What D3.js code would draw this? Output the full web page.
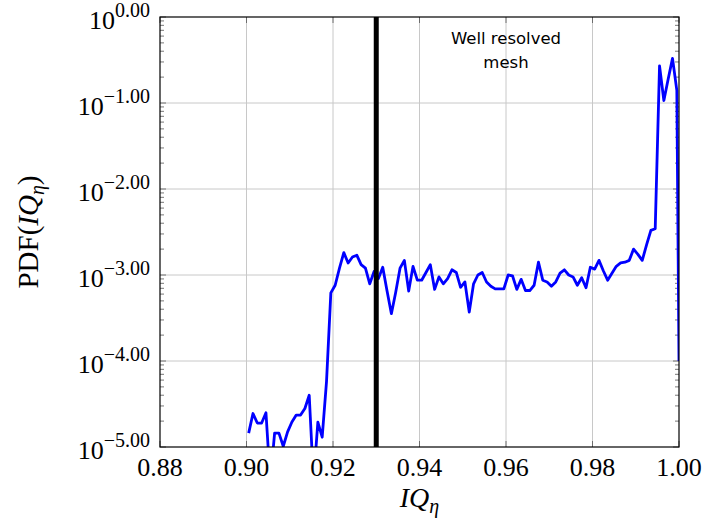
<!DOCTYPE html>
<html>
<head>
<meta charset="utf-8">
<script src="https://cdn.jsdelivr.net/npm/d3@7"></script>
<style>
  body { margin: 0; background: #fff; }
  svg text { font-family: "Liberation Serif", "DejaVu Serif", serif; }
</style>
</head>
<body>
<div id="chart"></div>
<script>
// bin centres of IQ_eta
var iqBins = [
  0.9005, 0.9015, 0.9025, 0.9035, 0.9045, 0.9055, 0.9065, 0.9075, 0.9085, 0.9095,
  0.9105, 0.9115, 0.9125, 0.9135, 0.9145, 0.9155, 0.9165, 0.9175, 0.9185, 0.9195,
  0.9205, 0.9215, 0.9225, 0.9235, 0.9245, 0.9255, 0.9265, 0.9275, 0.9285, 0.9295,
  0.9305, 0.9315, 0.9325, 0.9335, 0.9345, 0.9355, 0.9365, 0.9375, 0.9385, 0.9395,
  0.9405, 0.9415, 0.9425, 0.9435, 0.9445, 0.9455, 0.9465, 0.9475, 0.9485, 0.9495,
  0.9505, 0.9515, 0.9525, 0.9535, 0.9545, 0.9555, 0.9565, 0.9575, 0.9585, 0.9595,
  0.9605, 0.9615, 0.9625, 0.9635, 0.9645, 0.9655, 0.9665, 0.9675, 0.9685, 0.9695,
  0.9705, 0.9715, 0.9725, 0.9735, 0.9745, 0.9755, 0.9765, 0.9775, 0.9785, 0.9795,
  0.9805, 0.9815, 0.9825, 0.9835, 0.9845, 0.9855, 0.9865, 0.9875, 0.9885, 0.9895,
  0.9905, 0.9915, 0.9925, 0.9935, 0.9945, 0.9955, 0.9965, 0.9975, 0.9985, 0.9995,
  1.0
];
// PDF values per bin
var pdfValues = [
  1.45e-5, 2.45e-5, 1.9e-5, 1.9e-5, 2.5e-5, 4e-6, 1.45e-5, 1.45e-5, 1.02e-5, 1.5e-5,
  1.95e-5, 2.35e-5, 2.35e-5, 2.8e-5, 4.0e-5, 4e-6, 1.95e-5, 1.3e-5, 5.75e-5, 6.2e-4,
  7.6e-4, 1.2e-3, 1.82e-3, 1.38e-3, 1.62e-3, 1.7e-3, 1.32e-3, 1.2e-3, 7.9e-4, 1.1e-3,
  9.1e-4, 1.23e-3, 6.5e-4, 3.55e-4, 6.3e-4, 1.2e-3, 1.48e-3, 6.5e-4, 1.26e-3, 8.7e-4,
  8.7e-4, 1.07e-3, 1.32e-3, 6.8e-4, 9.5e-4, 7.9e-4, 9.1e-4, 1.15e-3, 1.07e-3, 7.2e-4,
  8.3e-4, 3.7e-4, 7.9e-4, 1.0e-3, 1.07e-3, 8.3e-4, 7.4e-4, 6.9e-4, 6.9e-4, 6.9e-4,
  1.0e-3, 9.8e-4, 6.8e-4, 8.9e-4, 6.6e-4, 6.6e-4, 7.6e-4, 1.41e-3, 8.7e-4, 8.3e-4,
  7.4e-4, 8.3e-4, 1.05e-3, 1.15e-3, 1.0e-3, 9.5e-4, 7.6e-4, 9.3e-4, 7.1e-4, 1.23e-3,
  1.17e-3, 1.48e-3, 1.12e-3, 8.7e-4, 1.05e-3, 1.26e-3, 1.38e-3, 1.41e-3, 1.48e-3, 2.0e-3,
  1.74e-3, 1.48e-3, 2.24e-3, 3.3e-3, 3.45e-3, 0.27, 0.107, 0.19, 0.33, 0.14,
  1e-4
];
var xTicks = [0.88, 0.90, 0.92, 0.94, 0.96, 0.98, 1.00];
var yExponents = [0, -1, -2, -3, -4, -5];
var threshold = 0.93;
var noteLines = ["Well resolved", "mesh"];

var W = 704, H = 520;
var pLeft = 160, pRight = 679, pTop = 17, pBottom = 447;

var svg = d3.select("#chart").append("svg")
  .attr("width", W).attr("height", H);

var x = d3.scaleLinear().domain([0.88, 1.0]).range([pLeft, pRight]);
var y = d3.scaleLog().domain([1e-5, 1]).range([pBottom, pTop]);

// grid
var grid = svg.append("g").attr("stroke", "#c8c8c8").attr("stroke-width", 1);
grid.selectAll("line.gx").data(xTicks.slice(1, -1)).enter().append("line")
  .attr("x1", d => x(d)).attr("x2", d => x(d))
  .attr("y1", pTop).attr("y2", pBottom);
grid.selectAll("line.gy").data(yExponents.slice(1, -1)).enter().append("line")
  .attr("y1", d => y(Math.pow(10, d))).attr("y2", d => y(Math.pow(10, d)))
  .attr("x1", pLeft).attr("x2", pRight);

// minor ticks on log axis, both sides inside
var minor = [];
for (var e = -5; e < 0; e++) {
  for (var m = 2; m <= 9; m++) minor.push(m * Math.pow(10, e));
}
var ticks = svg.append("g").attr("stroke", "#555").attr("stroke-width", 0.8);
[pLeft, pRight].forEach(function (sx) {
  var dir = sx === pLeft ? 1 : -1;
  ticks.selectAll(null).data(minor).enter().append("line")
    .attr("x1", sx).attr("x2", sx + dir * 4)
    .attr("y1", d => y(d)).attr("y2", d => y(d));
  ticks.selectAll(null).data(yExponents).enter().append("line")
    .attr("x1", sx).attr("x2", sx + dir * 6)
    .attr("y1", d => y(Math.pow(10, d))).attr("y2", d => y(Math.pow(10, d)));
});
[pTop, pBottom].forEach(function (sy) {
  var dir = sy === pBottom ? -1 : 1;
  ticks.selectAll(null).data(xTicks).enter().append("line")
    .attr("x1", d => x(d)).attr("x2", d => x(d))
    .attr("y1", sy).attr("y2", sy + dir * 6);
});

// clip for the data line
svg.append("clipPath").attr("id", "plotclip").append("rect")
  .attr("x", pLeft).attr("y", pTop).attr("width", pRight - pLeft).attr("height", pBottom - pTop);

var points = iqBins.map(function (d, i) { return [d, pdfValues[i]]; });
var line = d3.line().x(d => x(d[0])).y(d => y(d[1]));

svg.append("path").datum(points)
  .attr("clip-path", "url(#plotclip)")
  .attr("d", line)
  .attr("fill", "none")
  .attr("stroke", "#0000ff")
  .attr("stroke-width", 2.8)
  .attr("stroke-linejoin", "round");

// threshold line
svg.append("line")
  .attr("x1", x(threshold)).attr("x2", x(threshold))
  .attr("y1", pTop).attr("y2", pBottom)
  .attr("stroke", "#000").attr("stroke-width", 5);

// frame
svg.append("rect")
  .attr("x", pLeft).attr("y", pTop).attr("width", pRight - pLeft).attr("height", pBottom - pTop)
  .attr("fill", "none").attr("stroke", "#000").attr("stroke-width", 1.2);

// note
svg.selectAll("text.note").data(noteLines).enter().append("text")
  .attr("class", "note")
  .attr("x", x(0.96)).attr("y", (d, i) => 44 + i * 24)
  .attr("text-anchor", "middle")
  .style("font-family", "'DejaVu Sans', sans-serif")
  .style("font-size", "16.5px")
  .text(d => d);

// x tick labels
svg.selectAll("text.xt").data(xTicks).enter().append("text")
  .attr("x", d => x(d)).attr("y", 476)
  .attr("text-anchor", "middle")
  .style("font-size", "26px")
  .text(d => d.toFixed(2));

// y tick labels 10^{e.00}
var yl = svg.selectAll("text.yt").data(yExponents).enter().append("text")
  .attr("x", 150).attr("y", d => y(Math.pow(10, d)) + 12)
  .attr("text-anchor", "end")
  .style("font-size", "26px");
yl.append("tspan").text("10");
yl.append("tspan").attr("dy", -12).style("font-size", "20px")
  .text(d => (d < 0 ? "\u2212" + Math.abs(d).toFixed(2) : d.toFixed(2)));

// axis labels
var xl = svg.append("text")
  .attr("x", (pLeft + pRight) / 2).attr("y", 507)
  .attr("text-anchor", "middle")
  .style("font-size", "28px");
xl.append("tspan").style("font-style", "italic").text("IQ");
xl.append("tspan").attr("dy", 6).style("font-style", "italic").style("font-size", "20px").text("\u03b7");

var ylab = svg.append("text")
  .attr("transform", "translate(38," + ((pTop + pBottom) / 2) + ") rotate(-90)")
  .attr("text-anchor", "middle")
  .style("font-size", "29px");
ylab.append("tspan").text("PDF(");
ylab.append("tspan").style("font-style", "italic").text("IQ");
ylab.append("tspan").attr("dy", 6).style("font-style", "italic").style("font-size", "20px").text("\u03b7");
ylab.append("tspan").attr("dy", -6).text(")");
</script>
</body>
</html>
